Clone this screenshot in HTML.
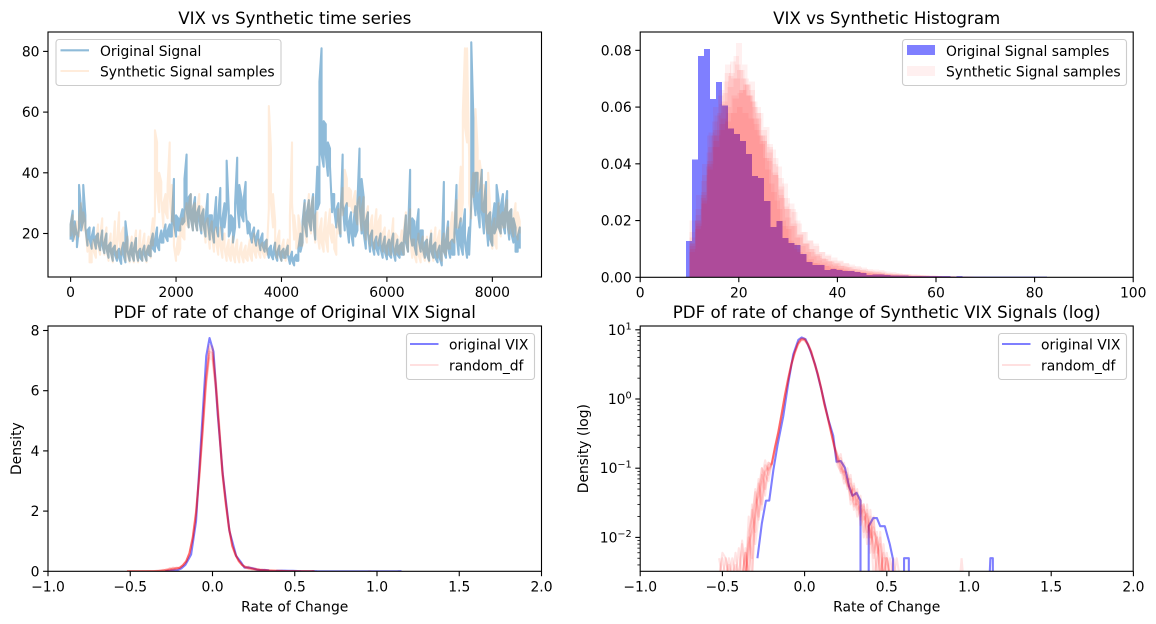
<!DOCTYPE html>
<html><head><meta charset="utf-8"><title>VIX vs Synthetic</title>
<style>
html,body{margin:0;padding:0;background:#fff;width:1156px;height:624px;overflow:hidden}
svg{display:block}
text{font-family:"DejaVu Sans","Liberation Sans",sans-serif;fill:#000}
</style></head>
<body>
<svg id="fig" xmlns="http://www.w3.org/2000/svg" width="1156" height="624" viewBox="0 0 1156 624"></svg>
<script>
// ---------- time series panel data (low/high of the signal in each window of sampleStep steps) ----------
const sampleStep = 40;
const originalLow = [
18,17.5,20,15.5,22,21,24,22,16,18,
15,18,15,17,14.5,16,13.5,15,12,14,
11,13,11,12,10,13,10.5,14,11,13,
11,14,11,12,11,13,11,13,12.5,15,
14,16,14.5,17,17,19,17.5,19,19,23,
19,21,21,23,24,28,22,25,21,24,
21,24,20,23,19,24,18,21,17,22,
19,25,18,22,28,19,21,17,22,30,
22,26,24,28,20,20,17,19,16,18,
14.5,16,14,15,12,13,11.5,13,11,13,
11,12,12,13,10,11,9.5,11,11,14,
17,23,19,24,21,25,18,28,30,46,
42,46,39,42,27,28,22,24,19,30,
21,23,17,20,16,19,21,30,20,20,
15,20,14,16,13,15,13,15,12,14,
11.5,13,12,14,11,13,12,13,13,17,
14,20,16,16,13,18,14,15,12,13,
11,14,12,12,10.5,12,9.5,14,12,15,
12,13,13,20,13,16,13,17,12,13,
30,33,26,28,22,27,20,24,16,18,
16,20,22,22,20,23,20,24,18,20,
17,14,14,15
];
const originalHigh = [
23,27.5,24,19,36,28,36,26,21,22,
19,22,19,20,17,21,17,20,16,17,
15,16,14,15,14,17,24,18,14,17,
15,18.5,14,15,14,16,14,16,17,20,
18,22,18,21,20,23,21,23,24,38,
26,25,25,28,38,46,32,33,28,32,
27,29,26,28,25,33,26,26,24,32,
26,35,25,30,44,28,26,25,30,45,
36,32,31,37,24,23,20,22,19,21,
18,20,17,18,15,16,14,17,14,16,
14,15,14,16,12,14,12,13,15,20,
24,31,27,31,28,33,26,42,70,81,
57,56,50,48,33,33,28,30,25,46,
28,30,24,27,23,29,30,48,38,32,
24,27,19,21,17,19,17,20,16,19,
16,18,17,20,15,18,16,17,18,26,
20,41,25,24,22,28,21,21,17,18,
15,20,16,17,14,16,14,37,18,24,
17,18,20,36,21,25,22,28,17,22,
83,58,40,40,33,41,30,37,26,27,
24,30,36,31,29,33,28,34,27,28,
25,22,19,22
];
const syntheticLow = [
19,21,18,20,19,24,21,22,14,10.5,
10.5,14,12,16,13,18,13,15,11,14,
10.5,15,12,18,13,17,11,13,10.5,13,
10.5,14,10.5,15,11,15,10.5,14,12,16,
26,34,27,31,22,27,25,32,24,16,
11,13,15,19,18,23,22,25,21,24,
21,26,21,23,17,21,15,19,14,17,
13,16,12,15,11,13,11,13,10.5,13,
10.5,13,10.5,12,11,13,11,14,12,14,
12,14,12,13,28,30,22,15,12,15,
11,14,11,13,14,30,18,15,16,16,
16,21,17,23,20,24,17,20,15,17,
14,18,14,20,17,15,13,20,20,26,
31,30,29,29,27,26,23,25,21,24,
18,22,16,20,15,20,16,19,14,16,
13,16,13,17,13,14,13,15,13,18,
14,18,12,13,10.5,13,10.5,13,11,14,
10.5,15,11,15,12,15,11,14,13,15,
15,18,17,22,22,24,30,55,50,30,
25,32,40,34,35,28,27,22,20,20,
15,17,15,22,19,22,22,24,20,22,
19,22,18,20
];
const syntheticHigh = [
23,26,22,24,25,30,27,24,18,15,
16,18,17,23,19,25,18,22,16,20,
15,24,18,27,20,22,16,19,15,19,
16,21,15,21,16,20,15,19,18,25,
54,50,40,37,30,33,36,50,36,22,
14,19,22,25,25,30,29,33,29,30,
28,33,29,28,23,25,21,24,20,22,
18,22,17,20,15,18,15,19,15,18,
14,17,14,16,14,18,15,20,16,18,
16,17,15,18,62,48,33,24,18,21,
15,18,14,18,26,50,26,20,26,22,
22,30,25,33,29,32,26,27,21,25,
20,27,22,28,23,22,18,28,28,35,
41,38,35,34,31,34,30,32,28,32,
26,29,23,26,22,28,24,26,20,22,
18,21,18,25,20,19,16,21,21,27,
22,28,18,18,14,20,16,19,15,19,
16,21,16,22,18,21,17,20,17,22,
21,27,25,31,30,42,60,81,81,45,
33,40,61,48,44,38,36,32,40,28,
22,25,22,30,26,27,28,31,27,28,
25,30,27,24
];
const tsXTicks = [0,2000,4000,6000,8000];
const tsYTicks = [20,40,60,80];

// ---------- histogram panel data ----------
const originalBinStart = 9.3;
const originalBinWidth = 1.22;
const originalHist = [
.0128,.0416,.078,.0805,.0629,.0688,.0606,.0525,.0505,.048,
.0435,.0357,.035,.0269,.0177,.0199,.0139,.0121,.0114,.0082,
.0054,.0043,.0043,.0026,.0029,.0026,.0022,.0022,.0019,.0015,
.0008,.001,.0009,.0008,.0007,.0006,.0006,.0005,.0005,.0005,
.0004,.0004,.0004,.0004,.0003,.0004,.0003,.0003,.0003,.0002,
.0002,.0003,.0003,.0002,.0003,.0002,.0002,.0002,.0002,.0002
];
const syntheticBinStart = [10,10,9.9,10,10,10.1,10,10];
const syntheticBinWidth = [1.2,1.18,1.22,1.25,1.15,1.2,1.28,1.12];
const syntheticHist1 = [.011,.019,.029,.041,.048,.052,.055,.058,.06,.058,.056,.052,.048,.044,.04,.035,.028,.024,.019,.016,.013,.011,.009,.008,.007,.006,.005,.0045,.004,.0035,.003,.0028,.0025,.002,.0018,.0015,.0012,.001,.0009,.0008,.0007,.0006,.0005,.0004,.0004,.0003,.0002,.0002,.0001,.0001];
const syntheticHist2 = [.014,.022,.034,.05,.06,.066,.072,.076,.0825,.075,.064,.054,.047,.038,.03,.024,.018,.013,.01,.008,.006,.005,.0045,.004,.0035,.003,.0028,.0022,.002,.0018,.0016,.0014,.0012,.001,.0009,.0008,.0006,.0006,.0005,.0004,.0004,.0003,.0003,.0002,.0002,.0002,.0001,.0001,.0001,.0001];
const syntheticHist3 = [.009,.017,.026,.038,.052,.061,.075,.07,.073,.07,.066,.058,.05,.046,.036,.028,.021,.023,.015,.012,.009,.0075,.0065,.0055,.005,.0042,.0036,.003,.0026,.0024,.002,.0018,.0014,.0012,.0012,.001,.0008,.0007,.0007,.0006,.0005,.0004,.0003,.0003,.0003,.0002,.0002,.0001,.0001,.0001];
const syntheticHist4 = [.016,.024,.036,.046,.05,.056,.058,.063,.066,.068,.062,.058,.053,.045,.039,.033,.026,.02,.016,.013,.012,.009,.0075,.006,.0055,.0048,.0038,.0034,.003,.0024,.0022,.002,.0016,.0014,.0012,.0011,.0009,.0008,.0006,.0006,.0005,.0004,.0004,.0003,.0003,.0002,.0002,.0002,.0001,.0001];
const syntheticHist5 = [.012,.02,.03,.044,.055,.064,.069,.072,.075,.07,.064,.06,.05,.042,.033,.027,.02,.017,.012,.009,.008,.0065,.005,.0045,.004,.0032,.003,.0026,.002,.0019,.0017,.0013,.0012,.0011,.0009,.0007,.0007,.0006,.0005,.0004,.0004,.0003,.0003,.0002,.0002,.0002,.0001,.0001,.0001,.0001];
const syntheticHist6 = [.01,.018,.027,.04,.046,.054,.06,.064,.065,.068,.069,.06,.052,.047,.042,.032,.024,.019,.014,.012,.01,.008,.0068,.0058,.0045,.004,.0034,.0028,.0024,.0021,.0018,.0016,.0015,.0012,.001,.0009,.0008,.0006,.0006,.0005,.0004,.0004,.0003,.0003,.0002,.0002,.0002,.0001,.0001,.0001];
const syntheticHist7 = [.02,.029,.04,.051,.057,.062,.067,.07,.066,.064,.056,.05,.042,.037,.029,.024,.018,.015,.012,.01,.0082,.0065,.0056,.0048,.004,.0035,.003,.0025,.0022,.0019,.0017,.0014,.0012,.001,.0009,.0007,.0006,.0006,.0005,.0004,.0003,.0003,.0003,.0002,.0002,.0001,.0001,.0001,.0001,.0001];
const syntheticHist8 = [.012,.02,.028,.039,.05,.058,.065,.071,.078,.073,.068,.062,.056,.048,.041,.036,.031,.025,.018,.014,.011,.009,.0074,.006,.0052,.0045,.004,.0032,.0028,.0025,.0021,.0018,.0016,.0013,.0011,.001,.0008,.0007,.0006,.0005,.0005,.0004,.0003,.0003,.0002,.0002,.0002,.0001,.0001,.0001];
const histXTicks = [0,20,40,60,80,100];
const histYTicks = [0,0.02,0.04,0.06,0.08];
const histYLabels = ["0.00","0.02","0.04","0.06","0.08"];

// ---------- rate of change density data ----------
const originalRocX = [-.287,-.26,-.235,-.215,-.19,-.164,-.13,-.1,-.069,-.038,-.018,.006,.032,.063,.103,.144,.174,.194,.22,.245,.271,.291,.316,.34,.3401,.3899,.39,.417,.44,.46,.488,.518,.538,.5381,.6049,.605,.634,.6341,1.1249,1.13,1.145,1.1451];
const originalRocDensity = [.005,.016,.034,.034,.094,.22,.56,1.66,4.4,7.15,7.75,7.3,5.2,3.2,1.34,.51,.295,.124,.127,.102,.054,.04,.044,.034,0,0,.0145,.019,.019,.0145,.0145,.008,.0048,0,0,.005,.005,0,0,.005,.005,0];
const syntheticLeftX = [-.52,-.5,-.48,-.46,-.44,-.42,-.4,-.38,-.36,-.34,-.32,-.3,-.28,-.26,-.24,-.22];
const syntheticCoreX = [-.2,-.18,-.16,-.14,-.12,-.1,-.08,-.06,-.04,-.02,0,.02,.04,.06,.08,.1,.12,.14,.16,.18];
const syntheticRightX = [.2,.22,.24,.26,.28,.3,.32,.34,.36,.38,.4,.42,.44,.46,.48,.5,.52,.54,.56,.58,.6,.62];
const syntheticCoreDensity = [.115,.2,.33,.6,1.12,1.95,3.2,4.7,6.3,7.3,7.25,6.2,4.8,3.3,2.3,1.45,.85,.55,.34,.21];
const syntheticCoreScale = [1,.97,1.02,.99,1.01,.98,1.03,1];
const syntheticLeft1 = [0,.006,.005,0,0,0,0,.008,0,.012,.02,.045,.02,.06,.09,.1];
const syntheticLeft2 = [0,0,0,.004,0,0,0,0,0,.02,0,.02,.05,.1,.05,.09];
const syntheticLeft3 = [.005,0,0,0,0,0,.007,0,.006,0,.03,.012,.035,.07,.13,.08];
const syntheticLeft4 = [0,0,0,0,.005,0,0,0,0,.008,.012,.05,.018,.04,.09,.12];
const syntheticLeft5 = [0,0,.005,0,0,.004,0,0,.006,0,0,.025,.07,.03,.06,.11];
const syntheticLeft6 = [0,0,0,0,0,.006,0,0,0,.01,.005,.03,.04,.08,.04,.12];
const syntheticLeft7 = [0,.005,0,0,0,0,0,.009,0,.006,.025,.008,.02,.1,.08,.065];
const syntheticLeft8 = [0,0,0,.005,0,0,0,0,.007,0,.012,.02,.06,.025,.11,.095];
const syntheticRight1 = [.15,.1,.09,.06,.04,.055,.03,.035,.018,.022,.01,.018,.006,.01,0,.005,0,0,0,0,0,0];
const syntheticRight2 = [.13,.16,.07,.08,.03,.04,.045,.02,.03,.012,.02,.005,.012,0,.008,0,0,0,0,0,0,0];
const syntheticRight3 = [.11,.09,.12,.05,.06,.025,.035,.04,.012,.025,.008,.012,.01,0,.005,.005,0,0,.005,0,0,0];
const syntheticRight4 = [.14,.12,.08,.1,.045,.05,.02,.028,.03,.01,.016,0,.005,.008,0,0,0,0,0,0,0,0];
const syntheticRight5 = [.16,.1,.06,.07,.07,.03,.03,.018,.025,.02,.006,.014,.008,.005,0,.006,0,.005,0,0,0,0];
const syntheticRight6 = [.12,.14,.1,.06,.05,.035,.05,.015,.02,.016,.012,.008,0,.012,0,0,.005,0,0,0,0,0];
const syntheticRight7 = [.13,.085,.09,.085,.035,.06,.025,.03,.01,.03,.01,.02,0,0,.006,0,0,0,0,0,0,0];
const syntheticRight8 = [.15,.11,.075,.055,.08,.028,.04,.022,.028,.008,.025,.006,.01,0,0,.005,0,0,0,0,0,0];
const synthOutlierX = [.945,.955,.965];
const synthOutlierDensity = [0,.005,0];
const rocXTicks = [-1,-.5,0,.5,1,1.5,2];
const rocXLabels = ["\u22121.0","\u22120.5","0.0","0.5","1.0","1.5","2.0"];
const pdfYTicks = [0,2,4,6,8];
const logDecades = [1,0,-1,-2];
const logMinorFactors = [2,3,4,5,6,7,8,9];
const logMinorDecades = [-3,-2,-1,0];

// ---------- axis functions ----------
const xTs = v => 70.6 + v * 0.05272;
const yTs = v => 233.5 - (v - 20) * 3.035;
const xHist = v => 640.2 + v * 4.93;
const yHist = v => 277.3 - v * 2837;
const xPdf = v => 48 + (v + 1) * 164.5;
const yPdf = v => 571.3 - v * 30.1;
const xLog = v => 640.2 + (v + 1) * 164.4;
const yLog = v => v <= 0 ? 578 : 399 - Math.log10(v) * 69.2;

const NS = "http://www.w3.org/2000/svg";
const fig = document.getElementById("fig");
function mk(tag, attrs, parent, txt) {
  const el = document.createElementNS(NS, tag);
  for (const k in attrs) el.setAttribute(k, attrs[k]);
  if (txt !== undefined) el.textContent = txt;
  parent.appendChild(el);
  return el;
}
function pathOf(xs, ys, fx, fy) {
  return xs.map((x, i) => (i ? "L" : "M") + fx(x).toFixed(2) + " " + fy(ys[i]).toFixed(2)).join("");
}
function bandPath(low, high) {
  let d = "";
  low.forEach((v, i) => {
    const x = xTs(i * sampleStep).toFixed(2);
    const a = i % 2 ? high[i] : v;
    const b = i % 2 ? v : high[i];
    d += (i ? "L" : "M") + x + " " + yTs(a).toFixed(2) + "L" + x + " " + yTs(b).toFixed(2);
  });
  return d;
}
const defs = mk("defs", {}, fig);
const PANELS = [
  {id:"ts", l:48, r:541.5, t:32, b:277},
  {id:"hist", l:640.2, r:1133.2, t:32, b:277.3},
  {id:"pdf", l:48, r:541.5, t:326, b:571.3},
  {id:"log", l:640.2, r:1133.2, t:326, b:571.3}
];
PANELS.forEach(p => {
  const c = mk("clipPath", {id:"clip-" + p.id}, defs);
  mk("rect", {x:p.l, y:p.t, width:p.r - p.l, height:p.b - p.t}, c);
});

function makeGroup(name, clipId) {
  const g = mk("g", clipId ? {"clip-path":"url(#clip-" + clipId + ")"} : {}, fig);
  
  
  return g;
}
function frame(p, name) {
  const r = mk("rect", {x:p.l, y:p.t, width:p.r - p.l, height:p.b - p.t, fill:"none", stroke:"#000", "stroke-width":1.1}, fig);
  
  
}
function xTicks(p, values, labels, fx, name) {
  const g = makeGroup(name);
  values.forEach((v, i) => {
    const x = fx(v);
    const tick = mk("line", {x1:x, x2:x, y1:p.b, y2:p.b + 4.9, stroke:"#000", "stroke-width":1.1}, g);
    
    
    const t = mk("text", {x:x, y:p.b + 20, "text-anchor":"middle", "font-size":13.89}, g, labels ? labels[i] : String(v));
    
    
  });
}
function yTicks(p, values, labels, fy, name) {
  const g = makeGroup(name);
  values.forEach((v, i) => {
    const y = fy(v);
    const tick = mk("line", {x1:p.l - 4.9, x2:p.l, y1:y, y2:y, stroke:"#000", "stroke-width":1.1}, g);
    
    
    const t = mk("text", {x:p.l - 8.5, y:y + 5, "text-anchor":"end", "font-size":13.89}, g, labels ? labels[i] : String(v));
    
    
  });
}
function title(p, txt, y, name) {
  const t = mk("text", {x:(p.l + p.r) / 2, y:y, "text-anchor":"middle", "font-size":16.67}, fig, txt);
  
  
}
function legendBox(x, y, w, h, name) {
  const g = mk("g", {}, fig);
  
  
  mk("rect", {x:x + .5, y:y + .5, width:w, height:h, rx:3, ry:3, fill:"#fff", "fill-opacity":.8, stroke:"#cccccc", "stroke-width":1.1}, g);
  return g;
}
function legendText(g, x, y, txt) {
  const t = mk("text", {x:x, y:y, "font-size":13.89}, g, txt);
  
  
}
function legendLine(g, x, y, color, op) {
  const l = mk("line", {x1:x, x2:x + 28.5, y1:y, y2:y, stroke:color, "stroke-opacity":op, "stroke-width":2.1}, g);
  
  
}
function legendPatch(g, x, y, color, op) {
  const l = mk("rect", {x:x, y:y, width:28, height:10, fill:color, "fill-opacity":op}, g);
  
  
}

// ---------- panel 1: time series ----------
(function(){
  const p = PANELS[0];
  const g = makeGroup("time-series-lines", "ts");
  const a = mk("path", {d:bandPath(originalLow, originalHigh), fill:"none", stroke:"#1f77b4", "stroke-opacity":.5, "stroke-width":2.1, "stroke-linejoin":"round"}, g);
  
  
  const b = mk("path", {d:bandPath(syntheticLow, syntheticHigh), fill:"none", stroke:"#ff7f0e", "stroke-opacity":.15, "stroke-width":2.1, "stroke-linejoin":"round"}, g);
  
  
  frame(p, "time-series-frame");
  xTicks(p, tsXTicks, null, xTs, "time-series-x-axis");
  yTicks(p, tsYTicks, null, yTs, "time-series-y-axis");
  title(p, "VIX vs Synthetic time series", 24, "time-series-title");
  const lg = legendBox(55.5, 39, 225, 46, "time-series-legend");
  legendLine(lg, 60.5, 50.3, "#1f77b4", .5);
  legendText(lg, 100, 56, "Original Signal");
  legendLine(lg, 60.5, 71, "#ff7f0e", .15);
  legendText(lg, 100, 76.7, "Synthetic Signal samples");
})();

// ---------- panel 2: histogram ----------
(function(){
  const p = PANELS[1];
  const g = makeGroup("histogram-bars", "hist");
  originalHist.forEach((v, i) => {
    const x0 = xHist(originalBinStart + i * originalBinWidth);
    const x1 = xHist(originalBinStart + (i + 1) * originalBinWidth);
    const r = mk("rect", {x:x0, y:yHist(v), width:x1 - x0, height:yHist(0) - yHist(v), fill:"#0000ff", "fill-opacity":.5, "shape-rendering":"crispEdges"}, g);
    
    
  });
  const sets = [syntheticHist1, syntheticHist2, syntheticHist3, syntheticHist4, syntheticHist5, syntheticHist6, syntheticHist7, syntheticHist8];
  sets.forEach((s, k) => {
    s.forEach((v, i) => {
      const x0 = xHist(syntheticBinStart[k] + i * syntheticBinWidth[k]);
      const x1 = xHist(syntheticBinStart[k] + (i + 1) * syntheticBinWidth[k]);
      const r = mk("rect", {x:x0, y:yHist(v), width:x1 - x0, height:yHist(0) - yHist(v), fill:"#ff0000", "fill-opacity":.06, "shape-rendering":"crispEdges"}, g);
      
      
    });
  });
  frame(p, "histogram-frame");
  xTicks(p, histXTicks, null, xHist, "histogram-x-axis");
  yTicks(p, histYTicks, histYLabels, yHist, "histogram-y-axis");
  title(p, "VIX vs Synthetic Histogram", 24, "histogram-title");
  const lg = legendBox(902, 39, 224, 46, "histogram-legend");
  legendPatch(lg, 907, 45, "#0000ff", .5);
  legendText(lg, 946, 56, "Original Signal samples");
  legendPatch(lg, 907, 66, "#ff0000", .06);
  legendText(lg, 946, 76.7, "Synthetic Signal samples");
})();

// ---------- panels 3 & 4: densities ----------
const synthLefts = [syntheticLeft1, syntheticLeft2, syntheticLeft3, syntheticLeft4, syntheticLeft5, syntheticLeft6, syntheticLeft7, syntheticLeft8];
const synthRights = [syntheticRight1, syntheticRight2, syntheticRight3, syntheticRight4, syntheticRight5, syntheticRight6, syntheticRight7, syntheticRight8];
const synthRocX = syntheticLeftX.concat(syntheticCoreX, syntheticRightX);
function drawDensities(clipId, fx, fy, name) {
  const g = makeGroup(name, clipId);
  const b = mk("path", {d:pathOf(originalRocX, originalRocDensity, fx, fy), fill:"none", stroke:"#0000ff", "stroke-opacity":.5, "stroke-width":2.1, "stroke-linejoin":"round"}, g);
  
  
  synthLefts.forEach((left, k) => {
    const core = syntheticCoreDensity.map(v => v * syntheticCoreScale[k]);
    const ys = left.concat(core, synthRights[k]);
    const l = mk("path", {d:pathOf(synthRocX, ys, fx, fy), fill:"none", stroke:"#ff0000", "stroke-opacity":.105, "stroke-width":2.1, "stroke-linejoin":"round"}, g);
    
    
  });
  const o = mk("path", {d:pathOf(synthOutlierX, synthOutlierDensity, fx, fy), fill:"none", stroke:"#ff0000", "stroke-opacity":.105, "stroke-width":2.1}, g);
  
  
}
function pdfLegend(x, name) {
  const lg = legendBox(x, 333, 128, 46, name);
  legendLine(lg, x + 4, 344, "#0000ff", .5);
  legendText(lg, x + 43, 349.6, "original VIX");
  legendLine(lg, x + 4, 365, "#ff0000", .12);
  legendText(lg, x + 43, 370.4, "random_df");
}
function axisLabels(p, yLabelX, yTxt, xName, yName) {
  const xl = mk("text", {x:(p.l + p.r) / 2, y:611.5, "text-anchor":"middle", "font-size":13.89}, fig, "Rate of Change");
  
  
  const cy = (p.t + p.b) / 2;
  const yl = mk("text", {x:yLabelX, y:cy, "text-anchor":"middle", "font-size":13.89, transform:"rotate(-90 " + yLabelX + " " + cy + ")"}, fig, yTxt);
  
  
}
(function(){
  const p = PANELS[2];
  drawDensities("pdf", xPdf, yPdf, "pdf-lines");
  frame(p, "pdf-frame");
  xTicks(p, rocXTicks, rocXLabels, xPdf, "pdf-x-axis");
  yTicks(p, pdfYTicks, null, yPdf, "pdf-y-axis");
  title(p, "PDF of rate of change of Original VIX Signal", 318, "pdf-title");
  axisLabels(p, 21, "Density", "pdf-x-axis-title", "pdf-y-axis-title");
  pdfLegend(406, "pdf-legend");
})();
(function(){
  const p = PANELS[3];
  drawDensities("log", xLog, yLog, "log-pdf-lines");
  frame(p, "log-pdf-frame");
  xTicks(p, rocXTicks, rocXLabels, xLog, "log-pdf-x-axis");
  const g = makeGroup("log-pdf-y-axis");
  logDecades.forEach(d => {
    const y = yLog(Math.pow(10, d));
    const tick = mk("line", {x1:p.l - 4.9, x2:p.l, y1:y, y2:y, stroke:"#000", "stroke-width":1.1}, g);
    
    
    const t = mk("text", {x:p.l - 8.5, y:y + 5, "text-anchor":"end", "font-size":13.89}, g, "10");
    
    
    const sup = mk("tspan", {dy:-5.5, "font-size":9.7}, t, d < 0 ? "\u2212" + Math.abs(d) : String(d));
    
    
  });
  logMinorDecades.forEach(d => {
    logMinorFactors.forEach(f => {
      const y = yLog(f * Math.pow(10, d));
      if (y > p.b + .5 || y < p.t) return;
      const tick = mk("line", {x1:p.l - 2.8, x2:p.l, y1:y, y2:y, stroke:"#000", "stroke-width":.8}, g);
      
      
    });
  });
  title(p, "PDF of rate of change of Synthetic VIX Signals (log)", 318, "log-pdf-title");
  axisLabels(p, 588, "Density (log)", "log-pdf-x-axis-title", "log-pdf-y-axis-title");
  pdfLegend(998, "log-pdf-legend");
})();
</script>
</body></html>
